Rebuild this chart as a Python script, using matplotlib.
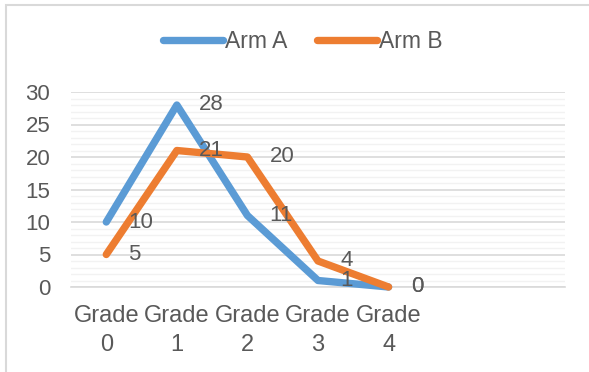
import matplotlib.pyplot as plt
import matplotlib.lines as mlines
import numpy as np

# dados
categorias = ['Grade\n0', 'Grade\n1', 'Grade\n2', 'Grade\n3', 'Grade\n4', '', '']
arm_a = [10, 28, 11, 1, 0]
arm_b = [5, 21, 20, 4, 0]

azul = '#5B9BD5'
laranja = '#ED7D31'
cinza_txt = '#595959'

plt.rcParams['font.family'] = ['Liberation Sans', 'DejaVu Sans']

fig = plt.figure(figsize=(5.89, 3.72), dpi=100)
ax = fig.add_axes([71/589, 1-287/372, (565-71)/589, (287-92)/372])

x = np.arange(len(arm_a))
ax.plot(x, arm_a, color=azul, lw=5.3, solid_capstyle='round', solid_joinstyle='round', clip_on=False, zorder=3)
ax.plot(x, arm_b, color=laranja, lw=5.3, solid_capstyle='round', solid_joinstyle='round', clip_on=False, zorder=4)

# rotulos dos dados (a direita dos pontos)
for serie in [arm_a, arm_b]:
    for i, v in enumerate(serie):
        ax.annotate(str(v), (i, v), xytext=(16, 0), textcoords='offset points',
                    ha='left', va='center', fontsize=16, color=cinza_txt, zorder=5)

ax.set_xlim(-0.5, len(categorias)-0.5)
ax.set_ylim(0, 30)
ax.set_xticks(np.arange(len(categorias)))
ax.set_xticklabels(categorias, linespacing=1.4, fontsize=17)
ax.set_yticks(range(0, 31, 5))
ax.set_yticks(range(0, 31, 1), minor=True)
ax.tick_params(axis='y', labelsize=16)
ax.tick_params(axis='both', length=0, labelcolor=cinza_txt)
ax.tick_params(axis='x', pad=13)
ax.tick_params(axis='y', pad=15)
ax.tick_params(which='minor', length=0)

ax.grid(axis='y', which='major', color='#D9D9D9', lw=1.2, zorder=1)
ax.grid(axis='y', which='minor', color='#F2F2F2', lw=1, zorder=0)
for s in ['top', 'right', 'left']:
    ax.spines[s].set_visible(False)
ax.spines['bottom'].set_color('#D9D9D9')
ax.spines['bottom'].set_linewidth(1.2)

# legenda
h1 = mlines.Line2D([], [], color=azul, lw=5.3, solid_capstyle='round')
h2 = mlines.Line2D([], [], color=laranja, lw=5.3, solid_capstyle='round')
fig.legend([h1, h2], ['Arm A', 'Arm B'], loc='center', bbox_to_anchor=(303/589, 1-42/372),
           ncol=2, frameon=False, fontsize=16.5, labelcolor=cinza_txt,
           handlelength=2.6, handletextpad=0.1, columnspacing=1.3)

# moldura do grafico
fig.add_artist(plt.Rectangle((6/589, -0.1), 1.2, 1.1-5/372, transform=fig.transFigure,
                             fill=False, edgecolor='#D9D9D9', lw=1.5))

fig.savefig('out.png', dpi=100)
